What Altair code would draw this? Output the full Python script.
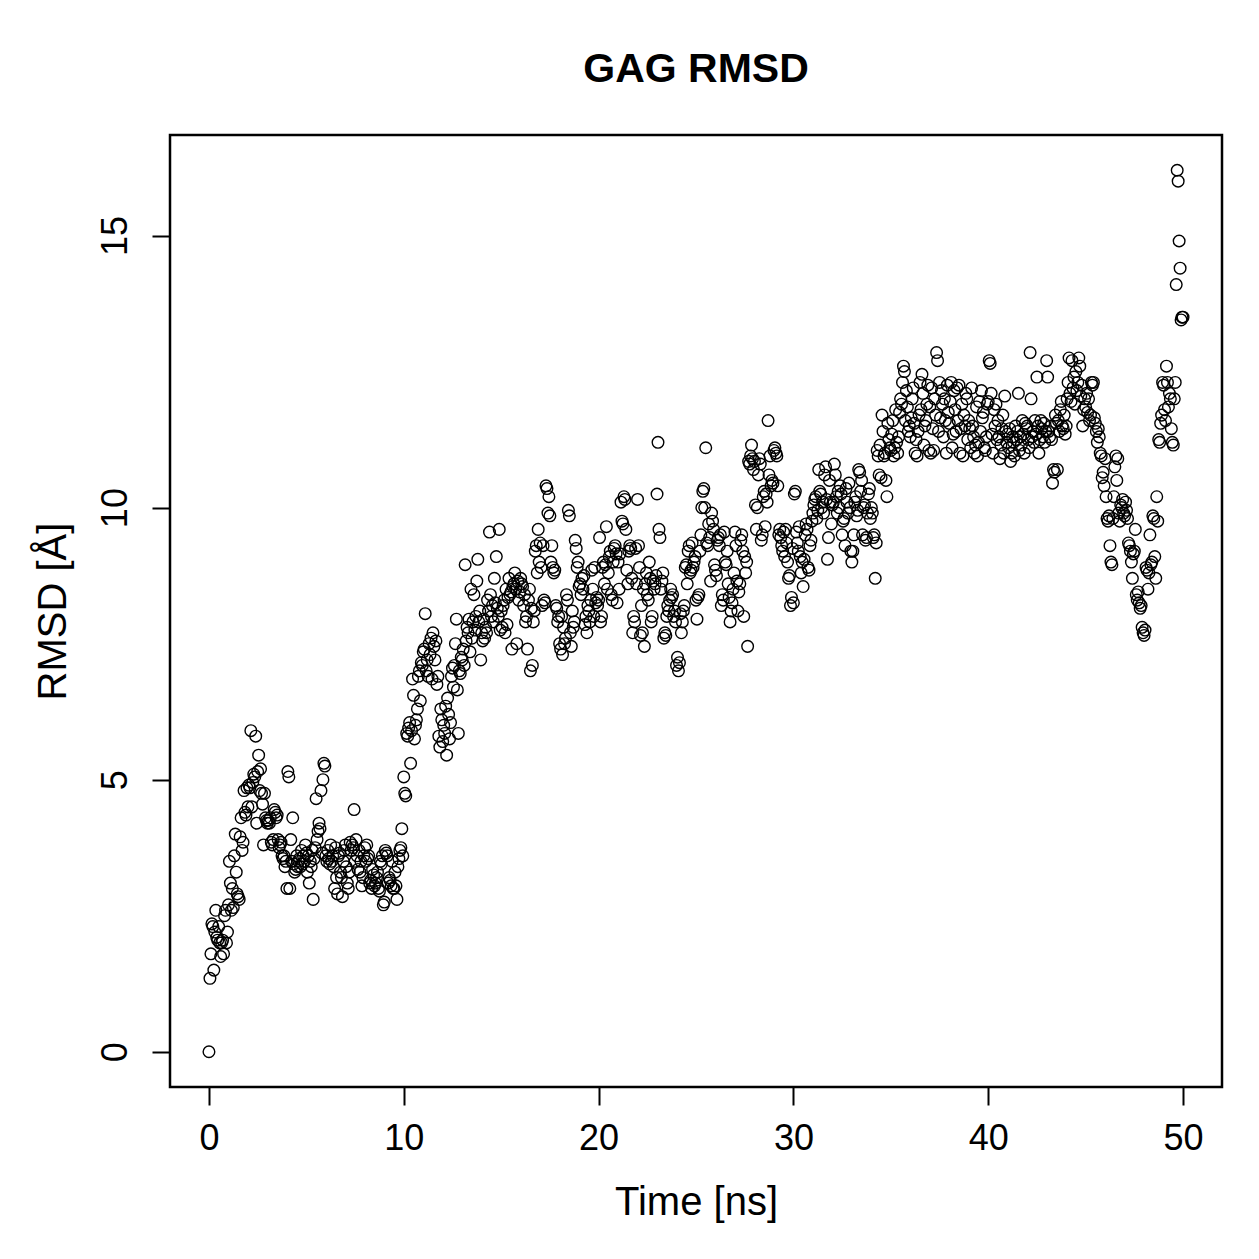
import altair as alt
import pandas as pd

# RMSD values [Å], one row per nanosecond (20 frames per ns, 0.05 ns apart), plus the final frame at 50 ns
rmsd_rows = [
    [0.0, 1.35, 1.8, 2.35, 2.3, 1.5, 2.2, 2.6, 2.1, 2.05, 2.3, 2.0, 1.75, 2.0, 2.05, 1.8, 2.5, 2.6, 2.0, 2.2],
    [2.7, 3.5, 3.1, 2.6, 3.0, 2.65, 3.6, 4.0, 3.3, 2.9, 2.85, 2.8, 3.95, 4.3, 3.7, 3.85, 4.8, 4.4, 4.35, 4.85],
    [4.5, 4.9, 4.85, 5.9, 4.5, 4.95, 5.1, 5.05, 5.8, 4.2, 5.15, 5.45, 4.8, 5.2, 4.75, 4.55, 3.8, 4.75, 4.3, 4.25],
    [4.2, 4.25, 4.2, 4.3, 3.85, 3.8, 3.9, 4.45, 4.4, 4.3, 4.35, 3.9, 3.75, 3.8, 3.85, 3.6, 3.55, 3.6, 3.4, 3.5],
    [3.0, 5.15, 5.05, 3.0, 3.9, 3.5, 4.3, 3.45, 3.3, 3.35, 3.6, 3.4, 3.5, 3.55, 3.4, 3.7, 3.45, 3.6, 3.5, 3.8],
    [3.65, 3.3, 3.6, 3.1, 3.5, 3.4, 3.7, 2.8, 3.55, 3.75, 4.65, 3.9, 4.05, 4.2, 4.1, 4.8, 3.65, 5.0, 5.3, 5.25],
    [3.6, 3.5, 3.7, 3.55, 3.45, 3.8, 3.5, 3.6, 3.4, 3.0, 3.75, 3.2, 2.9, 3.6, 3.65, 3.3, 3.2, 2.85, 3.5, 3.7],
    [3.8, 3.4, 3.1, 3.0, 3.3, 3.85, 3.7, 3.8, 3.75, 4.45, 3.5, 3.9, 3.6, 3.35, 3.7, 3.3, 3.5, 3.05, 3.2, 3.6],
    [3.75, 3.5, 3.8, 3.55, 3.6, 3.1, 3.15, 3.0, 3.35, 3.25, 3.05, 3.1, 3.2, 3.3, 3.0, 2.95, 3.5, 3.45, 3.6, 2.7],
    [2.75, 3.7, 3.65, 3.6, 3.1, 3.2, 3.15, 3.05, 3.5, 3.0, 3.0, 3.3, 3.05, 2.8, 3.4, 3.55, 3.7, 3.75, 4.1, 3.6],
    [5.05, 4.75, 4.7, 5.85, 5.8, 5.95, 6.05, 5.3, 5.9, 6.85, 6.55, 5.75, 6.0, 6.1, 6.3, 6.9, 7.0, 6.45, 7.15, 7.1],
    [7.35, 7.4, 8.05, 7.0, 7.2, 6.9, 7.5, 7.3, 7.6, 6.85, 7.7, 7.45, 7.2, 7.55, 6.75, 6.9, 5.8, 5.6, 6.3, 6.1],
    [5.7, 6.0, 5.85, 6.35, 5.45, 6.5, 6.2, 5.75, 6.05, 6.9, 7.05, 6.7, 7.1, 7.5, 7.95, 6.65, 5.85, 7.0, 6.95, 7.25],
    [7.2, 7.4, 7.1, 8.95, 7.55, 7.8, 7.7, 7.95, 7.35, 8.5, 7.6, 7.9, 8.4, 7.75, 8.0, 8.65, 9.05, 7.9, 8.1, 7.2],
    [7.7, 7.55, 7.95, 7.6, 7.8, 7.7, 8.3, 8.1, 9.55, 8.4, 8.0, 8.2, 7.9, 8.7, 8.25, 9.1, 8.15, 8.0, 9.6, 7.75],
    [8.1, 7.8, 8.2, 8.3, 7.7, 8.5, 7.85, 8.35, 8.7, 8.4, 8.45, 7.4, 8.55, 8.6, 8.8, 8.5, 7.5, 8.65, 8.3, 8.45],
    [8.7, 8.6, 8.55, 8.2, 8.4, 7.9, 8.0, 7.4, 8.3, 8.5, 7.0, 8.15, 7.1, 7.9, 8.1, 9.2, 9.3, 8.8, 9.6, 9.0],
    [9.35, 8.9, 8.2, 9.3, 8.3, 8.25, 10.4, 10.35, 9.9, 10.2, 9.85, 9.0, 9.3, 8.9, 8.8, 8.85, 8.2, 8.15, 7.9, 8.0],
    [7.5, 7.4, 8.0, 7.3, 7.8, 7.5, 7.6, 8.4, 8.3, 9.95, 9.85, 7.7, 7.45, 8.1, 7.8, 7.9, 9.4, 9.25, 8.9, 9.0],
    [8.55, 8.6, 8.4, 8.7, 8.5, 8.75, 7.85, 8.0, 7.7, 8.2, 8.1, 7.9, 8.3, 8.85, 8.5, 8.0, 8.9, 8.25, 8.35, 8.2],
    [8.3, 9.45, 7.9, 8.0, 8.9, 9.0, 8.6, 8.95, 9.65, 8.5, 8.8, 9.1, 9.2, 8.4, 8.3, 9.0, 9.25, 9.3, 9.15, 8.25],
    [9.0, 8.5, 9.15, 10.1, 9.75, 9.7, 10.2, 10.15, 9.6, 8.85, 8.6, 9.2, 9.3, 9.25, 8.7, 7.7, 8.0, 7.9, 9.25, 8.6],
    [10.15, 9.3, 8.9, 7.65, 8.2, 7.7, 8.5, 7.45, 8.6, 8.8, 8.4, 8.3, 9.0, 8.7, 7.9, 8.0, 8.65, 8.5, 8.6, 8.75],
    [10.25, 11.2, 9.6, 9.45, 8.5, 8.65, 8.8, 7.6, 7.7, 7.65, 8.0, 8.2, 8.1, 8.3, 8.5, 8.35, 8.4, 8.0, 8.1, 7.9],
    [7.1, 7.25, 7.0, 7.15, 8.05, 7.7, 7.9, 8.1, 8.2, 8.9, 8.95, 8.6, 9.2, 9.3, 8.8, 8.85, 9.35, 8.9, 9.0, 9.1],
    [8.3, 7.95, 8.35, 8.4, 9.2, 9.5, 10.0, 10.3, 10.35, 10.0, 11.1, 9.35, 9.3, 9.7, 9.45, 8.65, 9.9, 9.75, 9.6, 8.95],
    [8.85, 8.75, 9.4, 9.45, 9.3, 9.5, 8.2, 8.4, 8.3, 9.55, 9.0, 8.95, 9.2, 8.6, 8.35, 7.9, 8.1, 8.25, 8.5, 8.8],
    [9.55, 9.3, 8.65, 8.1, 8.45, 8.6, 9.4, 9.5, 9.2, 8.0, 9.1, 8.8, 9.0, 7.45, 10.85, 10.8, 10.95, 11.15, 10.9, 10.7],
    [10.85, 10.05, 9.6, 10.0, 10.6, 10.9, 10.8, 9.4, 9.5, 10.2, 10.3, 9.65, 10.25, 10.1, 11.6, 10.6, 10.95, 10.4, 10.5, 10.45],
    [11.05, 11.1, 11.0, 10.95, 10.4, 9.5, 9.6, 9.45, 9.3, 9.2, 9.55, 9.1, 9.6, 9.35, 9.0, 8.7, 8.75, 8.2, 8.35, 9.25],
    [8.25, 10.25, 10.3, 9.55, 9.35, 9.2, 9.65, 9.1, 8.8, 9.0, 8.55, 9.05, 9.5, 9.7, 9.6, 8.9, 8.85, 9.3, 9.4, 9.75],
    [9.9, 10.05, 10.15, 10.2, 9.8, 9.95, 10.7, 10.3, 10.25, 10.0, 10.1, 9.9, 10.6, 10.75, 10.15, 9.05, 9.45, 10.5, 10.1, 9.7],
    [10.05, 10.1, 10.8, 10.6, 10.2, 9.9, 10.3, 10.0, 10.4, 10.25, 9.5, 9.75, 9.8, 9.3, 10.35, 10.1, 9.9, 10.45, 10.0, 9.2],
    [9.0, 9.2, 9.5, 10.1, 10.2, 9.85, 9.95, 10.7, 10.65, 10.3, 10.5, 9.5, 10.0, 10.05, 9.4, 9.45, 9.9, 10.25, 10.35, 9.8],
    [10.0, 9.9, 9.45, 9.5, 8.7, 9.35, 11.05, 10.95, 10.6, 11.15, 10.55, 11.7, 11.4, 10.95, 11.0, 10.5, 10.2, 11.55, 11.25, 11.1],
    [11.05, 11.35, 11.6, 10.95, 11.1, 11.8, 11.2, 11.0, 11.3, 11.75, 12.0, 11.9, 12.3, 12.6, 12.5, 11.6, 12.15, 11.85, 11.4, 11.5],
    [11.3, 11.65, 12.0, 12.2, 11.55, 11.0, 11.25, 10.95, 11.4, 11.7, 12.3, 11.8, 12.45, 12.1, 11.15, 11.5, 11.6, 11.9, 12.25, 11.05],
    [11.85, 11.0, 12.2, 11.45, 11.05, 12.0, 11.7, 12.85, 12.7, 11.4, 12.3, 11.65, 12.15, 11.9, 11.3, 12.0, 11.6, 11.0, 12.25, 11.75],
    [11.55, 11.95, 12.3, 11.1, 11.35, 12.15, 11.8, 11.4, 12.2, 11.6, 12.25, 11.0, 11.45, 11.9, 10.95, 11.7, 11.5, 12.1, 12.0, 11.25],
    [11.6, 11.45, 11.1, 12.2, 11.5, 11.3, 11.0, 11.15, 11.85, 10.95, 11.2, 11.95, 11.4, 12.15, 11.65, 11.75, 11.1, 11.05, 11.3, 11.9],
    [11.95, 12.7, 12.65, 12.1, 11.35, 11.0, 11.8, 11.5, 11.9, 11.25, 11.6, 11.3, 10.9, 11.15, 11.45, 11.7, 11.0, 12.05, 11.4, 11.2],
    [11.35, 11.1, 11.45, 10.85, 11.0, 11.3, 11.2, 10.95, 11.5, 11.25, 11.4, 12.1, 11.05, 11.3, 11.15, 11.6, 11.35, 11.0, 11.55, 11.45],
    [11.5, 11.25, 11.1, 12.85, 12.0, 11.3, 11.4, 11.2, 11.6, 11.35, 12.4, 11.5, 11.0, 11.25, 11.6, 11.45, 11.3, 11.55, 11.2, 11.4],
    [12.7, 12.4, 11.4, 11.3, 11.5, 11.25, 10.45, 10.7, 10.65, 11.7, 11.55, 10.7, 11.6, 11.4, 11.8, 11.95, 11.5, 11.45, 11.7, 11.35],
    [11.5, 12.0, 12.3, 12.75, 12.1, 11.95, 12.7, 12.2, 12.4, 11.9, 12.5, 12.15, 12.3, 12.75, 12.6, 12.05, 12.25, 11.5, 11.8, 12.0],
    [11.85, 12.1, 11.75, 12.0, 11.6, 11.7, 12.3, 12.25, 12.3, 11.65, 11.55, 11.4, 11.2, 11.45, 11.3, 11.0, 10.95, 10.55, 10.65, 10.4],
    [10.9, 10.2, 9.8, 9.75, 9.85, 9.3, 9.0, 8.95, 9.8, 10.2, 10.75, 10.95, 10.5, 10.9, 9.9, 9.75, 10.05, 10.0, 10.15, 9.9],
    [9.85, 10.1, 9.95, 9.8, 9.35, 9.3, 9.2, 9.0, 8.7, 9.15, 9.2, 9.6, 8.4, 8.3, 8.45, 8.25, 8.15, 8.2, 7.8, 7.7],
    [7.65, 7.75, 8.9, 8.85, 8.5, 8.8, 9.5, 8.95, 9.0, 9.85, 9.8, 9.1, 8.7, 10.2, 9.75, 11.25, 11.2, 11.55, 11.7, 12.3],
    [12.25, 11.8, 11.6, 12.6, 12.3, 11.85, 12.1, 12.0, 11.45, 11.2, 11.15, 12.0, 12.3, 14.1, 16.2, 16.0, 14.9, 14.4, 13.45, 13.5],
]
rmsd_last = [13.5]

frames_per_ns = 20
x_ticks = [0, 10, 20, 30, 40, 50]
y_ticks = [0, 5, 10, 15]

for r in rmsd_rows:
    assert len(r) == frames_per_ns, len(r)

rmsd = [v for row in rmsd_rows for v in row] + rmsd_last
time_ns = [round(i / frames_per_ns, 2) for i in range(len(rmsd))]
df = pd.DataFrame({"time": time_ns, "rmsd": rmsd})

# R-style 4% axis extension
xmin, xmax = min(time_ns), max(time_ns)
ymin, ymax = min(rmsd), max(rmsd)
xpad = 0.04 * (xmax - xmin)
ypad = 0.04 * (ymax - ymin)

FONT = "Liberation Sans"

chart = (
    alt.Chart(df, title=alt.Title(
        "GAG RMSD", font=FONT, fontSize=41, fontWeight="bold", color="black",
        anchor="middle", offset=44, frame="group"))
    .mark_point(shape="circle", filled=False, color="black", strokeWidth=1.4, size=135, opacity=1)
    .encode(
        x=alt.X("time:Q",
                scale=alt.Scale(domain=[xmin - xpad, xmax + xpad], nice=False, zero=False),
                axis=alt.Axis(values=x_ticks, title="Time [ns]", grid=False, domain=False,
                              tickColor="black", tickWidth=2, tickSize=18,
                              labelFont=FONT, labelFontSize=36, labelColor="black", labelPadding=16,
                              labelFlush=False,
                              titleFont=FONT, titleFontSize=40, titleFontWeight="normal",
                              titleColor="black", titlePadding=26)),
        y=alt.Y("rmsd:Q",
                scale=alt.Scale(domain=[ymin - ypad, ymax + ypad], nice=False, zero=False),
                axis=alt.Axis(values=y_ticks, title="RMSD [Å]", grid=False, domain=False,
                              tickColor="black", tickWidth=2, tickSize=18,
                              labelFont=FONT, labelFontSize=36, labelColor="black",
                              labelAngle=270, labelAlign="center", labelBaseline="bottom",
                              labelPadding=18, labelFlush=False,
                              titleFont=FONT, titleFontSize=40, titleFontWeight="normal",
                              titleColor="black", titlePadding=24)),
    )
    .properties(
        width=1052, height=952,
        padding={"left": 170, "top": 135, "right": 37, "bottom": 172},
        autosize="none",
        background="white",
    )
    .configure_view(stroke="black", strokeWidth=2.5)
)

chart.save("out.html", embed_options={"renderer": "svg", "actions": False})
